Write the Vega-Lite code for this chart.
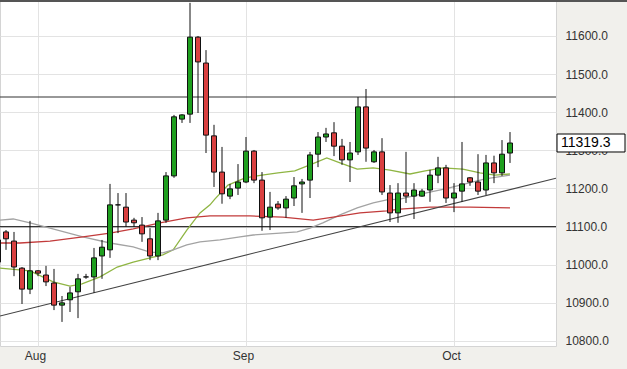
{
  "$schema": "https://vega.github.io/schema/vega-lite/v6.json",
  "width": 556,
  "height": 345,
  "autosize": {"type": "none"},
  "padding": {"left": 0, "top": 1, "right": 71, "bottom": 23},
  "background": "#f1f0ec",
  "config": {"view": {"fill": "white", "stroke": "#d4d4d4"}, "font": "Liberation Sans"},
  "datasets": {
    "candles": [
      {"k":0,"o":11065,"h":11091,"l":10978,"c":11007,"dir":"down"},
      {"k":1,"o":11086,"h":11091,"l":11039,"c":11068,"dir":"down"},
      {"k":2,"o":11062,"h":11086,"l":10970,"c":10994,"dir":"down"},
      {"k":3,"o":10991,"h":10994,"l":10897,"c":10936,"dir":"down"},
      {"k":4,"o":10936,"h":11115,"l":10923,"c":10984,"dir":"up"},
      {"k":5,"o":10984,"h":10986,"l":10970,"c":10978,"dir":"down"},
      {"k":6,"o":10973,"h":10997,"l":10944,"c":10955,"dir":"down"},
      {"k":7,"o":10952,"h":10989,"l":10881,"c":10894,"dir":"down"},
      {"k":8,"o":10894,"h":10918,"l":10850,"c":10900,"dir":"up"},
      {"k":9,"o":10908,"h":10942,"l":10876,"c":10926,"dir":"up"},
      {"k":10,"o":10929,"h":10976,"l":10860,"c":10963,"dir":"up"},
      {"k":11,"o":10968,"h":10976,"l":10963,"c":10968,"dir":"flat"},
      {"k":12,"o":10968,"h":11044,"l":10926,"c":11018,"dir":"up"},
      {"k":13,"o":11023,"h":11065,"l":10963,"c":11046,"dir":"up"},
      {"k":14,"o":11039,"h":11212,"l":11018,"c":11157,"dir":"up"},
      {"k":15,"o":11157,"h":11188,"l":11083,"c":11157,"dir":"flat"},
      {"k":16,"o":11151,"h":11188,"l":11099,"c":11112,"dir":"down"},
      {"k":17,"o":11117,"h":11123,"l":11099,"c":11110,"dir":"down"},
      {"k":18,"o":11104,"h":11125,"l":11060,"c":11081,"dir":"down"},
      {"k":19,"o":11068,"h":11096,"l":11012,"c":11023,"dir":"down"},
      {"k":20,"o":11023,"h":11136,"l":11012,"c":11115,"dir":"up"},
      {"k":21,"o":11117,"h":11243,"l":11110,"c":11233,"dir":"up"},
      {"k":22,"o":11233,"h":11393,"l":11228,"c":11388,"dir":"up"},
      {"k":23,"o":11382,"h":11395,"l":11372,"c":11393,"dir":"up"},
      {"k":24,"o":11395,"h":11687,"l":11372,"c":11597,"dir":"up"},
      {"k":25,"o":11597,"h":11600,"l":11398,"c":11532,"dir":"down"},
      {"k":26,"o":11529,"h":11563,"l":11293,"c":11340,"dir":"down"},
      {"k":27,"o":11338,"h":11367,"l":11204,"c":11243,"dir":"down"},
      {"k":28,"o":11243,"h":11309,"l":11160,"c":11186,"dir":"down"},
      {"k":29,"o":11180,"h":11212,"l":11172,"c":11199,"dir":"up"},
      {"k":30,"o":11201,"h":11264,"l":11183,"c":11217,"dir":"up"},
      {"k":31,"o":11217,"h":11335,"l":11214,"c":11298,"dir":"up"},
      {"k":32,"o":11298,"h":11301,"l":11214,"c":11222,"dir":"down"},
      {"k":33,"o":11222,"h":11243,"l":11089,"c":11123,"dir":"down"},
      {"k":34,"o":11125,"h":11191,"l":11091,"c":11151,"dir":"up"},
      {"k":35,"o":11159,"h":11167,"l":11144,"c":11149,"dir":"down"},
      {"k":36,"o":11149,"h":11180,"l":11123,"c":11172,"dir":"up"},
      {"k":37,"o":11175,"h":11230,"l":11154,"c":11207,"dir":"up"},
      {"k":38,"o":11212,"h":11225,"l":11136,"c":11217,"dir":"up"},
      {"k":39,"o":11222,"h":11296,"l":11175,"c":11288,"dir":"up"},
      {"k":40,"o":11290,"h":11348,"l":11256,"c":11335,"dir":"up"},
      {"k":41,"o":11335,"h":11359,"l":11322,"c":11343,"dir":"up"},
      {"k":42,"o":11346,"h":11374,"l":11285,"c":11311,"dir":"down"},
      {"k":43,"o":11311,"h":11330,"l":11262,"c":11275,"dir":"down"},
      {"k":44,"o":11275,"h":11322,"l":11217,"c":11293,"dir":"up"},
      {"k":45,"o":11296,"h":11440,"l":11288,"c":11414,"dir":"up"},
      {"k":46,"o":11414,"h":11461,"l":11270,"c":11306,"dir":"down"},
      {"k":47,"o":11270,"h":11301,"l":11267,"c":11296,"dir":"up"},
      {"k":48,"o":11296,"h":11332,"l":11183,"c":11191,"dir":"down"},
      {"k":49,"o":11188,"h":11209,"l":11112,"c":11136,"dir":"down"},
      {"k":50,"o":11136,"h":11214,"l":11110,"c":11188,"dir":"up"},
      {"k":51,"o":11188,"h":11296,"l":11162,"c":11180,"dir":"down"},
      {"k":52,"o":11180,"h":11214,"l":11120,"c":11196,"dir":"up"},
      {"k":53,"o":11180,"h":11199,"l":11178,"c":11193,"dir":"up"},
      {"k":54,"o":11196,"h":11249,"l":11165,"c":11235,"dir":"up"},
      {"k":55,"o":11235,"h":11283,"l":11214,"c":11254,"dir":"up"},
      {"k":56,"o":11254,"h":11262,"l":11162,"c":11175,"dir":"down"},
      {"k":57,"o":11175,"h":11214,"l":11138,"c":11188,"dir":"up"},
      {"k":58,"o":11193,"h":11322,"l":11165,"c":11212,"dir":"up"},
      {"k":59,"o":11228,"h":11230,"l":11207,"c":11217,"dir":"down"},
      {"k":60,"o":11217,"h":11290,"l":11183,"c":11193,"dir":"down"},
      {"k":61,"o":11196,"h":11288,"l":11183,"c":11267,"dir":"up"},
      {"k":62,"o":11267,"h":11286,"l":11214,"c":11241,"dir":"down"},
      {"k":63,"o":11241,"h":11327,"l":11233,"c":11290,"dir":"up"},
      {"k":64,"o":11293,"h":11348,"l":11267,"c":11319.3,"dir":"up"}
    ],
    "lines": [
      {"k":0.25,"v":10991,"s":"ma1"},{"k":4,"v":10984,"s":"ma1"},{"k":6.9,"v":10955,"s":"ma1"},
      {"k":9,"v":10944,"s":"ma1"},{"k":10.5,"v":10950,"s":"ma1"},{"k":12.75,"v":10968,"s":"ma1"},
      {"k":14.9,"v":10994,"s":"ma1"},{"k":16.9,"v":11007,"s":"ma1"},{"k":19.4,"v":11020,"s":"ma1"},
      {"k":20.6,"v":11026,"s":"ma1"},{"k":21.9,"v":11039,"s":"ma1"},{"k":23.6,"v":11091,"s":"ma1"},
      {"k":25.25,"v":11136,"s":"ma1"},{"k":26.5,"v":11157,"s":"ma1"},{"k":27.1,"v":11172,"s":"ma1"},
      {"k":28.75,"v":11209,"s":"ma1"},{"k":30.9,"v":11228,"s":"ma1"},{"k":33,"v":11235,"s":"ma1"},
      {"k":35,"v":11241,"s":"ma1"},{"k":37.1,"v":11246,"s":"ma1"},{"k":39,"v":11262,"s":"ma1"},
      {"k":41.1,"v":11280,"s":"ma1"},{"k":42.75,"v":11267,"s":"ma1"},{"k":44.9,"v":11251,"s":"ma1"},
      {"k":46.9,"v":11254,"s":"ma1"},{"k":49,"v":11248,"s":"ma1"},{"k":51.5,"v":11238,"s":"ma1"},
      {"k":53.4,"v":11246,"s":"ma1"},{"k":55.6,"v":11254,"s":"ma1"},{"k":58.1,"v":11251,"s":"ma1"},
      {"k":60.25,"v":11241,"s":"ma1"},{"k":62.1,"v":11235,"s":"ma1"},{"k":64,"v":11238,"s":"ma1"},
      {"k":0.25,"v":11117,"s":"ma2"},{"k":1.9,"v":11120,"s":"ma2"},{"k":4,"v":11110,"s":"ma2"},
      {"k":6.5,"v":11096,"s":"ma2"},{"k":10.6,"v":11073,"s":"ma2"},{"k":14,"v":11057,"s":"ma2"},
      {"k":16.9,"v":11047,"s":"ma2"},{"k":19,"v":11033,"s":"ma2"},{"k":20.6,"v":11031,"s":"ma2"},
      {"k":21.9,"v":11039,"s":"ma2"},{"k":23.6,"v":11052,"s":"ma2"},{"k":25.25,"v":11060,"s":"ma2"},
      {"k":27.75,"v":11065,"s":"ma2"},{"k":30.25,"v":11073,"s":"ma2"},{"k":31.9,"v":11078,"s":"ma2"},
      {"k":35.25,"v":11083,"s":"ma2"},{"k":37.4,"v":11086,"s":"ma2"},{"k":39,"v":11096,"s":"ma2"},
      {"k":40.6,"v":11110,"s":"ma2"},{"k":42.75,"v":11131,"s":"ma2"},{"k":44.9,"v":11149,"s":"ma2"},
      {"k":46.9,"v":11162,"s":"ma2"},{"k":48.6,"v":11170,"s":"ma2"},{"k":50.25,"v":11172,"s":"ma2"},
      {"k":53.4,"v":11188,"s":"ma2"},{"k":55.9,"v":11199,"s":"ma2"},{"k":58.4,"v":11212,"s":"ma2"},
      {"k":60.9,"v":11225,"s":"ma2"},{"k":64,"v":11235,"s":"ma2"},
      {"k":0.25,"v":11057,"s":"ma3"},{"k":2.75,"v":11057,"s":"ma3"},{"k":6.5,"v":11062,"s":"ma3"},
      {"k":10.6,"v":11073,"s":"ma3"},{"k":14,"v":11083,"s":"ma3"},{"k":16.9,"v":11094,"s":"ma3"},
      {"k":20.25,"v":11110,"s":"ma3"},{"k":23.6,"v":11123,"s":"ma3"},{"k":26.5,"v":11128,"s":"ma3"},
      {"k":31.5,"v":11128,"s":"ma3"},{"k":35.6,"v":11125,"s":"ma3"},{"k":39.4,"v":11117,"s":"ma3"},
      {"k":41.9,"v":11125,"s":"ma3"},{"k":45.25,"v":11136,"s":"ma3"},{"k":48.6,"v":11141,"s":"ma3"},
      {"k":50.25,"v":11146,"s":"ma3"},{"k":54,"v":11151,"s":"ma3"},{"k":59,"v":11151,"s":"ma3"},
      {"k":64,"v":11149,"s":"ma3"}
    ],
    "levels": [{"v": 11440}, {"v": 11100}],
    "trend": [{"k": 0.25, "v": 10865.5}, {"k": 69.75, "v": 11227}],
    "last": [{"price": 11319.3, "label": "11319.3"}]
  },
  "layer": [
    {
      "data": {"name": "levels"},
      "mark": {"type": "rule", "color": "#333333", "strokeWidth": 1.2},
      "encoding": {
        "y": {"field": "v", "type": "quantitative",
              "scale": {"domain": [10786.8, 11691.8], "nice": false, "zero": false, "padding": 0},
              "axis": {"orient": "right", "values": [10800,10900,11000,11100,11200,11300,11400,11500,11600],
                       "format": ".1f", "grid": true, "gridColor": "#e3e3e3", "ticks": false, "domain": false,
                       "labelPadding": 9, "labelFontSize": 12, "labelColor": "#333333", "title": null}}
      }
    },
    {
      "data": {"name": "lines"},
      "mark": {"type": "line", "strokeWidth": 1.3, "clip": true},
      "encoding": {
        "x": {"field": "k", "type": "quantitative",
              "scale": {"domain": [0.25, 69.75], "nice": false, "zero": false, "padding": 0},
              "axis": {"values": [5, 31, 57], "labelExpr": "datum.value == 5 ? 'Aug' : datum.value == 31 ? 'Sep' : 'Oct'",
                       "grid": true, "gridColor": "#e3e3e3", "ticks": false, "domain": false,
                       "labelPadding": 4, "labelFontSize": 12, "labelColor": "#333333", "labelOffset": -3, "title": null}},
        "y": {"field": "v", "type": "quantitative"},
        "stroke": {"field": "s", "type": "nominal",
                   "scale": {"domain": ["ma1","ma2","ma3"], "range": ["#8fb543","#a3a3a3","#c23b3b"]},
                   "legend": null}
      }
    },
    {
      "data": {"name": "trend"},
      "mark": {"type": "line", "color": "#444444", "strokeWidth": 1.1, "clip": true},
      "encoding": {
        "x": {"field": "k", "type": "quantitative"},
        "y": {"field": "v", "type": "quantitative"}
      }
    },
    {
      "data": {"name": "candles"},
      "mark": {"type": "rule", "color": "#111111", "strokeWidth": 1, "clip": true},
      "encoding": {
        "x": {"field": "k", "type": "quantitative"},
        "y": {"field": "l", "type": "quantitative"},
        "y2": {"field": "h"}
      }
    },
    {
      "data": {"name": "candles"},
      "mark": {"type": "bar", "width": 5, "stroke": "#111111", "strokeWidth": 1, "clip": true},
      "encoding": {
        "x": {"field": "k", "type": "quantitative"},
        "y": {"field": "o", "type": "quantitative"},
        "y2": {"field": "c"},
        "fill": {"field": "dir", "type": "nominal",
                 "scale": {"domain": ["up","down","flat"], "range": ["#1f9f1f","#d94040","#111111"]},
                 "legend": null}
      }
    },
    {
      "data": {"name": "last"},
      "mark": {"type": "rect", "fill": "white", "stroke": "#000000", "strokeWidth": 1, "clip": false},
      "encoding": {
        "x": {"datum": 69.875, "type": "quantitative"},
        "x2": {"datum": 78.375},
        "y": {"datum": 11342.9, "type": "quantitative"},
        "y2": {"datum": 11295.7}
      }
    },
    {
      "data": {"name": "last"},
      "mark": {"type": "text", "align": "left", "baseline": "middle", "fontSize": 14, "color": "#000000", "clip": false, "dx": 1},
      "encoding": {
        "x": {"datum": 70.25, "type": "quantitative"},
        "y": {"field": "price", "type": "quantitative"},
        "text": {"field": "label"}
      }
    },
    {
      "data": {"name": "last"},
      "mark": {"type": "rule", "color": "#555555", "strokeWidth": 2, "clip": false},
      "encoding": {
        "x": {"datum": -1, "type": "quantitative"},
        "x2": {"datum": 80},
        "y": {"datum": 11691.8, "type": "quantitative"}
      }
    }
  ]
}
